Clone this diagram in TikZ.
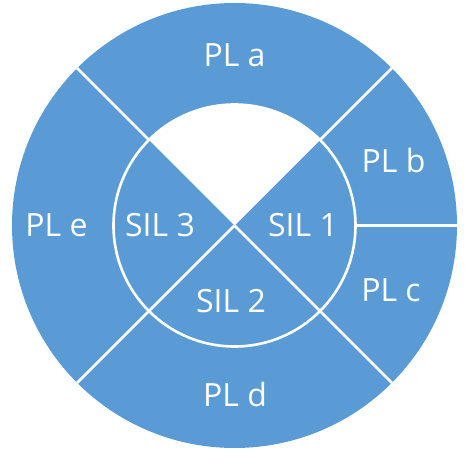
\documentclass[tikz,border=0pt]{standalone}
\usepackage{fontspec}
\setmainfont{Open Sans}
\usetikzlibrary{calc}
\definecolor{plblue}{HTML}{5B9BD5}
\begin{document}
\begin{tikzpicture}[x=1pt,y=1pt,
  sep/.style={white,line width=2.6pt},
  lbl/.style={text=white,font=\fontsize{32}{32}\selectfont,anchor=base,inner sep=0pt}]
\useasboundingbox (0,0) rectangle (469,464);
\coordinate (C) at (234.5,238.5);
\fill[plblue] (C) circle (222.5);
\fill[white] (C) -- ++(45:121) arc (45:135:121) -- cycle;
\draw[sep] (C) circle (121);
\draw[sep] (C) -- ++(225:222.5);
\draw[sep] (C) -- ++(315:222.5);
\draw[sep] ($(C)+(45:121)$) -- ($(C)+(45:222.5)$);
\draw[sep] ($(C)+(135:121)$) -- ($(C)+(135:222.5)$);
\draw[sep] ($(C)+(0:121)$) -- ($(C)+(0:222.5)$);
\node[lbl] (pla) at (234.5,397.3) {PL a};
\node[lbl] (plb) at (393.5,291) {PL b};
\node[lbl] (plc) at (391,162) {PL c};
\node[lbl] (pld) at (235,57) {PL d};
\node[lbl] (ple) at (56.5,227) {PL e};
\node[lbl] (sil3) at (160,227) {SIL 3};
\node[lbl] (sil1) at (303,227) {SIL 1};
\node[lbl] (sil2) at (231,151) {SIL 2};
\end{tikzpicture}
\end{document}
